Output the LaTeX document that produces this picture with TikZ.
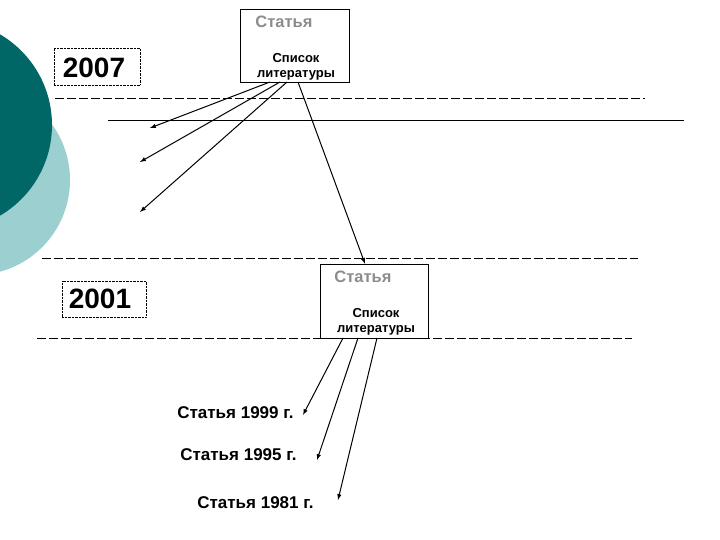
\documentclass[tikz,border=0pt]{standalone}
\usepackage{fontspec}
\setmainfont{Liberation Sans}
\definecolor{lightteal}{HTML}{9CCFCF}
\definecolor{darkteal}{HTML}{006666}
\begin{document}
\begin{tikzpicture}[x=1pt,y=-1pt,
  arr/.style={-latex,line width=1pt},
  dline/.style={dashed,dash pattern=on 9pt off 3pt,line width=0.7pt},
  lbl/.style={font=\bfseries\fontsize{17}{20}\selectfont},
  small/.style={font=\bfseries\fontsize{13}{15}\selectfont,align=center},
  gray/.style={font=\bfseries\fontsize{16.5}{19}\selectfont,text=gray!90}]
\useasboundingbox (0,0) rectangle (720,540);
\fill[lightteal] (-25,180) circle (95);
\fill[darkteal] (-53,125) circle (105);
\node[draw,minimum width=109pt,minimum height=73pt] (b1) at (294.5,45.5) {};
\node[gray] (t1) at (284,22) {Статья};
\node[small] (s1) at (296,67) {Список\\литературы};
\node[draw,minimum width=108pt,minimum height=74pt] (b2) at (374,301) {};
\node[gray] (t2) at (363,277) {Статья};
\node[small] (s2) at (376,322) {Список\\литературы};
\node[draw,densely dotted,minimum width=86pt,minimum height=37pt] (y1) at (97,66.5) {};
\node[font=\bfseries\fontsize{28}{32}\selectfont] (y1t) at (94,68) {2007};
\node[draw,densely dotted,minimum width=84pt,minimum height=36pt] (y2) at (104,299) {};
\node[font=\bfseries\fontsize{28}{32}\selectfont] (y2t) at (100,299) {2001};
\draw[dline] (55,98) -- (645,98);
\draw[line width=0.7pt] (108,120) -- (684,120);
\draw[dline] (42,258) -- (638,258);
\draw[dline] (37,338) -- (632,338);
\coordinate (e1) at (150,128);
\coordinate (e2) at (140,162);
\coordinate (e3) at (140,212);
\draw[arr] (270,82) -- (e1);
\draw[arr] (280,82) -- (e2);
\draw[arr] (287,82) -- (e3);
\draw[arr] (298,82) -- (b2.north -| 365,0);
\node[lbl,anchor=east] (a1) at (297,413) {Статья 1999 г.};
\node[lbl,anchor=east] (a2) at (300,455) {Статья 1995 г.};
\node[lbl,anchor=east] (a3) at (317,503) {Статья 1981 г.};
\draw[arr] (343,338) -- (303,415);
\draw[arr] (358,338) -- (317,460);
\draw[arr] (377,338) -- (338,500);
\end{tikzpicture}
\end{document}
